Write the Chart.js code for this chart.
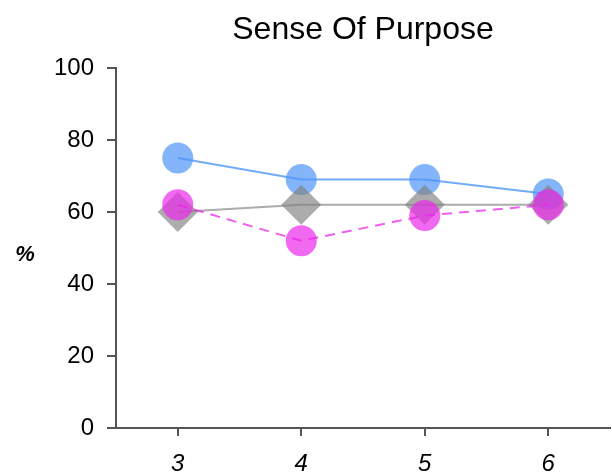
<!DOCTYPE html>
<html lang="en">
<head>
  <meta charset="UTF-8">
  <title>Sense Of Purpose</title>
  <script src="https://cdn.jsdelivr.net/npm/chart.js"></script>
  <style>
    html, body { margin: 0; padding: 0; background: #fff; }
  </style>
</head>
<body>
  <div style="width: 612px; height: 475px;">
    <canvas id="lineChart"></canvas>
  </div>

  <script>
    const grades = ['3', '4', '5', '6'];
    const blueValues = [75, 69, 69, 65];
    const grayValues = [60, 62, 62, 62];
    const pinkValues = [62, 52, 59, 62];
    const yTicks = [0, 20, 40, 60, 80, 100];

    const FONT = 'Liberation Sans, Arial, Helvetica, sans-serif';
    const AXIS = '#555';

    // title centred over the plot area, "%" drawn flat left of the y axis
    const labels = {
      id: 'labels',
      afterDraw(chart) {
        const { ctx, chartArea } = chart;
        ctx.save();
        ctx.fillStyle = '#000';
        ctx.textAlign = 'center';
        ctx.textBaseline = 'alphabetic';
        ctx.font = '32px ' + FONT;
        ctx.fillText('Sense Of Purpose', (chartArea.left + chartArea.right) / 2, 39);
        ctx.font = 'italic bold 22px ' + FONT;
        ctx.textBaseline = 'middle';
        ctx.fillText('%', 25, (chartArea.top + chartArea.bottom) / 2 + 7);
        ctx.restore();
      }
    };

    const data = {
      labels: grades,
      datasets: [
        {
          label: 'blue',
          data: blueValues,
          borderColor: 'rgba(80, 150, 250, 0.8)',
          backgroundColor: 'rgba(80, 150, 250, 0.7)',
          borderWidth: 2,
          pointStyle: 'circle',
          pointRadius: 15.5,
          pointBorderWidth: 0,
          order: 3
        },
        {
          label: 'gray',
          data: grayValues,
          borderColor: 'rgba(128, 128, 128, 0.65)',
          backgroundColor: 'rgba(128, 128, 128, 0.65)',
          borderWidth: 2,
          pointStyle: 'rectRot',
          pointRadius: 20,
          pointBorderWidth: 0,
          order: 2
        },
        {
          label: 'pink',
          data: pinkValues,
          borderColor: 'rgba(235, 40, 235, 0.75)',
          backgroundColor: 'rgba(235, 40, 235, 0.7)',
          borderWidth: 2,
          borderDash: [10, 7],
          pointStyle: 'circle',
          pointRadius: 15.5,
          pointBorderWidth: 0,
          order: 1
        }
      ]
    };

    const config = {
      type: 'line',
      data: data,
      options: {
        responsive: true,
        maintainAspectRatio: false,
        animation: false,
        layout: { autoPadding: false, padding: { left: 0, right: 2, top: 68, bottom: 0 } },
        plugins: {
          legend: { display: false },
          tooltip: { enabled: false },
          title: { display: false }
        },
        scales: {
          x: {
            type: 'category',
            offset: true,
            grid: { display: true, drawOnChartArea: false, drawTicks: true, tickLength: 8, color: AXIS, lineWidth: 2 },
            border: { display: true, color: AXIS, width: 2 },
            ticks: {
              color: '#000',
              padding: 14,
              font: { family: FONT, size: 24, style: 'italic' }
            },
            afterFit: s => { s.height = 47; }
          },
          y: {
            min: 0,
            max: 100,
            grid: { display: true, drawOnChartArea: false, drawTicks: true, tickLength: 9, color: AXIS, lineWidth: 2 },
            border: { display: true, color: AXIS, width: 2 },
            afterBuildTicks: s => { s.ticks = yTicks.map(v => ({ value: v })); },
            ticks: {
              color: '#000',
              padding: 13,
              font: { family: FONT, size: 24 }
            },
            afterFit: s => { s.width = 116; }
          }
        }
      },
      plugins: [labels]
    };

    new Chart(document.getElementById('lineChart'), config);
  </script>
</body>
</html>
